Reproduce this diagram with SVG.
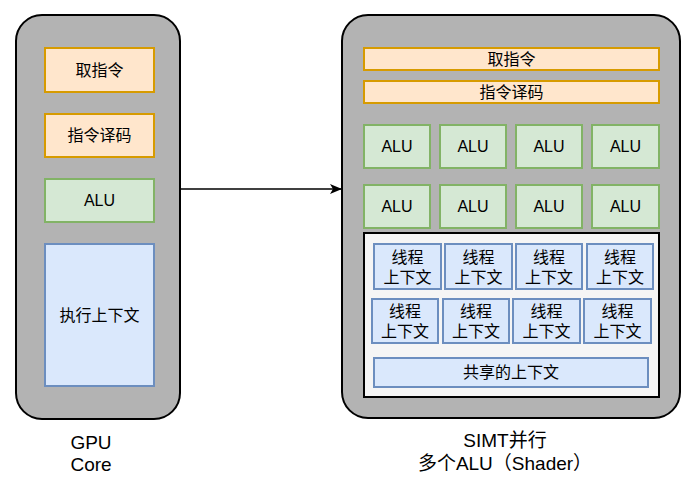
<svg xmlns="http://www.w3.org/2000/svg" width="696" height="481" viewBox="0 0 696 481">
<defs>
<style>
.cont{fill:#b3b3b3;stroke:#000;stroke-width:2}
.or{fill:#ffe6cc;stroke:#d79b00;stroke-width:2}
.gr{fill:#d5e8d4;stroke:#82b366;stroke-width:2}
.bl{fill:#dae8fc;stroke:#6c8ebf;stroke-width:2}
.inner{fill:#f5f5f5;stroke:#000;stroke-width:2}
text{font-family:"Liberation Sans","Noto Sans CJK SC",sans-serif;font-size:16px;fill:#000;text-anchor:middle;dominant-baseline:central}
.big{font-size:19px}
</style>
<marker id="arr" markerWidth="12" markerHeight="10" refX="11" refY="5" orient="auto" markerUnits="userSpaceOnUse">
<path d="M0,0 L12,5 L0,10 L3,5 Z" fill="#000"/>
</marker>
</defs>
<rect width="696" height="481" fill="#fff"/>

<g id="gpu-core">
<rect class="cont" x="16" y="15" width="164" height="404" rx="26"/>
<g id="l-fetch"><rect class="or" x="45" y="48" width="109" height="44"/><text x="99.5" y="70">取指令</text></g>
<g id="l-decode"><rect class="or" x="45" y="114" width="109" height="43"/><text x="99.5" y="135.5">指令译码</text></g>
<g id="l-alu"><rect class="gr" x="45" y="179" width="109" height="43"/><text x="99.5" y="200.5">ALU</text></g>
<g id="l-ctx"><rect class="bl" x="45" y="244" width="109" height="142"/><text x="99.5" y="315">执行上下文</text></g>
</g>
<g id="gpu-label"><text class="big" x="91" y="442">GPU</text><text class="big" x="91" y="464">Core</text></g>

<g id="simt">
<rect class="cont" x="342" y="15" width="338" height="403" rx="26"/>
<g id="r-fetch"><rect class="or" x="364" y="48" width="295" height="22"/><text x="511.5" y="59">取指令</text></g>
<g id="r-decode"><rect class="or" x="364" y="81" width="295" height="22"/><text x="511.5" y="92">指令译码</text></g>
<g id="alus">
<rect class="gr" x="364" y="125" width="66" height="43"/><text x="397" y="146.5">ALU</text>
<rect class="gr" x="440" y="125" width="66" height="43"/><text x="473" y="146.5">ALU</text>
<rect class="gr" x="516" y="125" width="66" height="43"/><text x="549" y="146.5">ALU</text>
<rect class="gr" x="592" y="125" width="67" height="43"/><text x="625.5" y="146.5">ALU</text>
<rect class="gr" x="364" y="185" width="66" height="43"/><text x="397" y="206.5">ALU</text>
<rect class="gr" x="440" y="185" width="66" height="43"/><text x="473" y="206.5">ALU</text>
<rect class="gr" x="516" y="185" width="66" height="43"/><text x="549" y="206.5">ALU</text>
<rect class="gr" x="592" y="185" width="67" height="43"/><text x="625.5" y="206.5">ALU</text>
</g>
<g id="ctx-area">
<rect class="inner" x="364" y="233" width="295" height="164"/>
<rect class="bl" x="374" y="244" width="67" height="45"/><text x="407.5" y="257">线程</text><text x="407.5" y="277">上下文</text>
<rect class="bl" x="445" y="244" width="67" height="45"/><text x="478.5" y="257">线程</text><text x="478.5" y="277">上下文</text>
<rect class="bl" x="516" y="244" width="66" height="45"/><text x="549" y="257">线程</text><text x="549" y="277">上下文</text>
<rect class="bl" x="587" y="244" width="66" height="45"/><text x="620" y="257">线程</text><text x="620" y="277">上下文</text>
<rect class="bl" x="372" y="299" width="66" height="44"/><text x="405" y="311">线程</text><text x="405" y="331">上下文</text>
<rect class="bl" x="443" y="299" width="66" height="44"/><text x="476" y="311">线程</text><text x="476" y="331">上下文</text>
<rect class="bl" x="513" y="299" width="67" height="44"/><text x="546.5" y="311">线程</text><text x="546.5" y="331">上下文</text>
<rect class="bl" x="584" y="299" width="67" height="44"/><text x="617.5" y="311">线程</text><text x="617.5" y="331">上下文</text>
<rect class="bl" x="374" y="358" width="274" height="29"/><text x="511" y="372.5">共享的上下文</text>
</g>
</g>
<g id="simt-label"><text class="big" x="505" y="440">SIMT并行</text><text class="big" x="505" y="463">多个ALU（Shader）</text></g>

<g id="connectors">
<line x1="180" y1="189" x2="341" y2="189" stroke="#000" stroke-width="1.5" marker-end="url(#arr)"/>
</g>
</svg>
